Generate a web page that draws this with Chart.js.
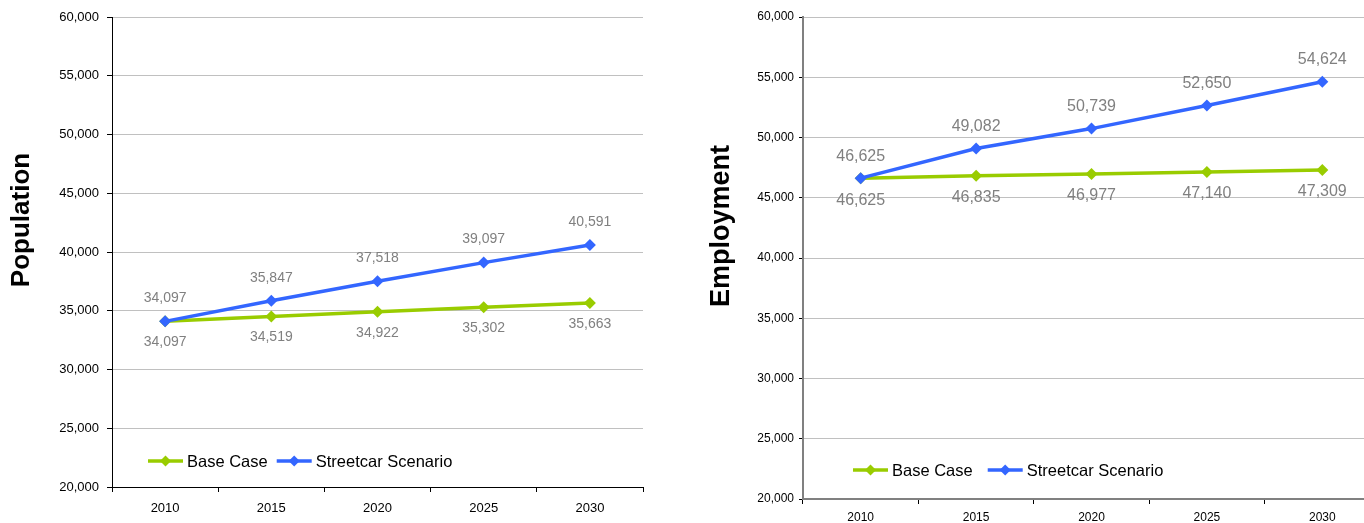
<!DOCTYPE html>
<html>
<head>
    <title>Population and employment forecast</title>
    <script src="https://cdn.jsdelivr.net/npm/chart.js"></script>
    <style>
        html, body {
            margin: 0;
            padding: 0;
            background: #fff;
            overflow: hidden;
        }
        #popChart {
            position: absolute;
            left: 0;
            top: 0;
        }
        #empChart {
            position: absolute;
            left: 690px;
            top: 0;
        }
    </style>
</head>
<body>
    <canvas id="popChart" width="660" height="523"></canvas>
    <canvas id="empChart" width="700" height="523"></canvas>

    <script>
        const years = ['2010', '2015', '2020', '2025', '2030'];

        const popBase = [34097, 34519, 34922, 35302, 35663];
        const popStreetcar = [34097, 35847, 37518, 39097, 40591];

        const empBase = [46625, 46835, 46977, 47140, 47309];
        const empStreetcar = [46625, 49082, 50739, 52650, 54624];

        const seriesNames = ['Base Case', 'Streetcar Scenario'];
        const FONT = '"Liberation Sans", Arial, sans-serif';
        const GREEN = '#99CC00';
        const BLUE = '#3366FF';

        // value labels above / below each point
        const pointLabels = {
            id: 'pointLabels',
            afterDatasetsDraw(chart, args, opts) {
                const ctx = chart.ctx;
                ctx.save();
                ctx.font = opts.size + 'px ' + FONT;
                ctx.fillStyle = '#808080';
                ctx.textAlign = 'center';
                ctx.textBaseline = 'middle';
                chart.data.datasets.forEach((ds, i) => {
                    const meta = chart.getDatasetMeta(i);
                    const dy = ds.labelSide === 'above' ? -opts.above : opts.below;
                    meta.data.forEach((pt, j) => {
                        ctx.fillText(ds.data[j].toLocaleString('en-US'), pt.x, pt.y + dy);
                    });
                });
                ctx.restore();
            }
        };

        // legend drawn inside the plot area
        const innerLegend = {
            id: 'innerLegend',
            afterDraw(chart, args, opts) {
                const ctx = chart.ctx;
                ctx.save();
                ctx.font = opts.size + 'px ' + FONT;
                ctx.textBaseline = 'middle';
                let cx = opts.x;
                const y = opts.y;
                chart.data.datasets.forEach(ds => {
                    ctx.strokeStyle = ds.borderColor;
                    ctx.lineWidth = 3.5;
                    ctx.beginPath();
                    ctx.moveTo(cx, y);
                    ctx.lineTo(cx + 35, y);
                    ctx.stroke();
                    const mx = cx + 17.5, r = 5.5;
                    ctx.fillStyle = ds.borderColor;
                    ctx.beginPath();
                    ctx.moveTo(mx, y - r);
                    ctx.lineTo(mx + r, y);
                    ctx.lineTo(mx, y + r);
                    ctx.lineTo(mx - r, y);
                    ctx.closePath();
                    ctx.fill();
                    ctx.fillStyle = '#000';
                    ctx.fillText(ds.label, cx + 39, y + 1);
                    cx += 39 + ctx.measureText(ds.label).width + opts.gap;
                });
                ctx.restore();
            }
        };

        // rotated bold y axis title
        const yTitle = {
            id: 'yTitle',
            afterDraw(chart, args, opts) {
                const ctx = chart.ctx;
                ctx.save();
                ctx.translate(opts.x, opts.y);
                ctx.rotate(-Math.PI / 2);
                ctx.font = 'bold ' + opts.size + 'px ' + FONT;
                ctx.fillStyle = '#000';
                ctx.textAlign = 'center';
                ctx.textBaseline = 'middle';
                ctx.fillText(opts.text, 0, 0);
                ctx.restore();
            }
        };

        function createChart(canvasId, base, streetcar, s) {
            const makeSet = (label, data, color, side, order) => ({
                label: label,
                data: data,
                borderColor: color,
                backgroundColor: color,
                borderWidth: 3.5,
                pointStyle: 'rectRot',
                pointRadius: 6,
                pointHoverRadius: 6,
                pointBorderWidth: 0,
                tension: 0,
                labelSide: side,
                order: order
            });

            return new Chart(document.getElementById(canvasId), {
                type: 'line',
                data: {
                    labels: years,
                    datasets: [
                        makeSet(seriesNames[0], base, GREEN, 'below', 1),
                        makeSet(seriesNames[1], streetcar, BLUE, 'above', 0)
                    ]
                },
                options: {
                    responsive: false,
                    animation: false,
                    layout: {
                        padding: { top: 17, right: s.padRight, left: 0, bottom: 0 }
                    },
                    plugins: {
                        legend: { display: false },
                        tooltip: { enabled: false },
                        pointLabels: { size: s.labelSize, above: s.above, below: s.below },
                        innerLegend: { x: s.legendX, y: s.legendY, size: 16.5, gap: s.legendGap },
                        yTitle: { text: s.title, x: s.titleX, y: s.titleY, size: s.titleSize }
                    },
                    scales: {
                        x: {
                            offset: true,
                            afterFit(scale) { scale.height = s.xHeight; },
                            grid: {
                                offset: true,
                                drawOnChartArea: false,
                                tickLength: 5,
                                tickColor: '#000'
                            },
                            border: { color: s.axisColor, width: s.axisWidth },
                            ticks: {
                                color: '#000',
                                padding: s.xPad,
                                maxRotation: 0,
                                font: { family: FONT, size: s.tickSize }
                            }
                        },
                        y: {
                            min: 20000,
                            max: 60000,
                            afterFit(scale) { scale.width = s.yWidth; },
                            grid: {
                                color: '#C0C0C0',
                                tickColor: '#000',
                                tickLength: s.yTickLen
                            },
                            border: { color: s.axisColor, width: s.axisWidth },
                            ticks: {
                                stepSize: 5000,
                                color: '#000',
                                padding: s.yPad,
                                font: { family: FONT, size: s.tickSize },
                                callback: v => v.toLocaleString('en-US')
                            }
                        }
                    }
                },
                plugins: [pointLabels, innerLegend, yTitle]
            });
        }

        createChart('popChart', popBase, popStreetcar, {
            padRight: 17, yWidth: 112, xHeight: 36,
            axisColor: '#000', axisWidth: 1,
            tickSize: 13, xPad: 9, yPad: 8, yTickLen: 5,
            labelSize: 14, above: 23, below: 21,
            legendX: 148, legendY: 461, legendGap: 9,
            title: 'Population', titleX: 22, titleY: 220, titleSize: 26
        });

        createChart('empChart', empBase, empStreetcar, {
            padRight: 10, yWidth: 113, xHeight: 24,
            axisColor: '#808080', axisWidth: 2,
            tickSize: 12, xPad: 6, yPad: 5, yTickLen: 4,
            labelSize: 16, above: 22, below: 22,
            legendX: 163, legendY: 470, legendGap: 15,
            title: 'Employment', titleX: 32, titleY: 226, titleSize: 27
        });
    </script>
</body>
</html>
